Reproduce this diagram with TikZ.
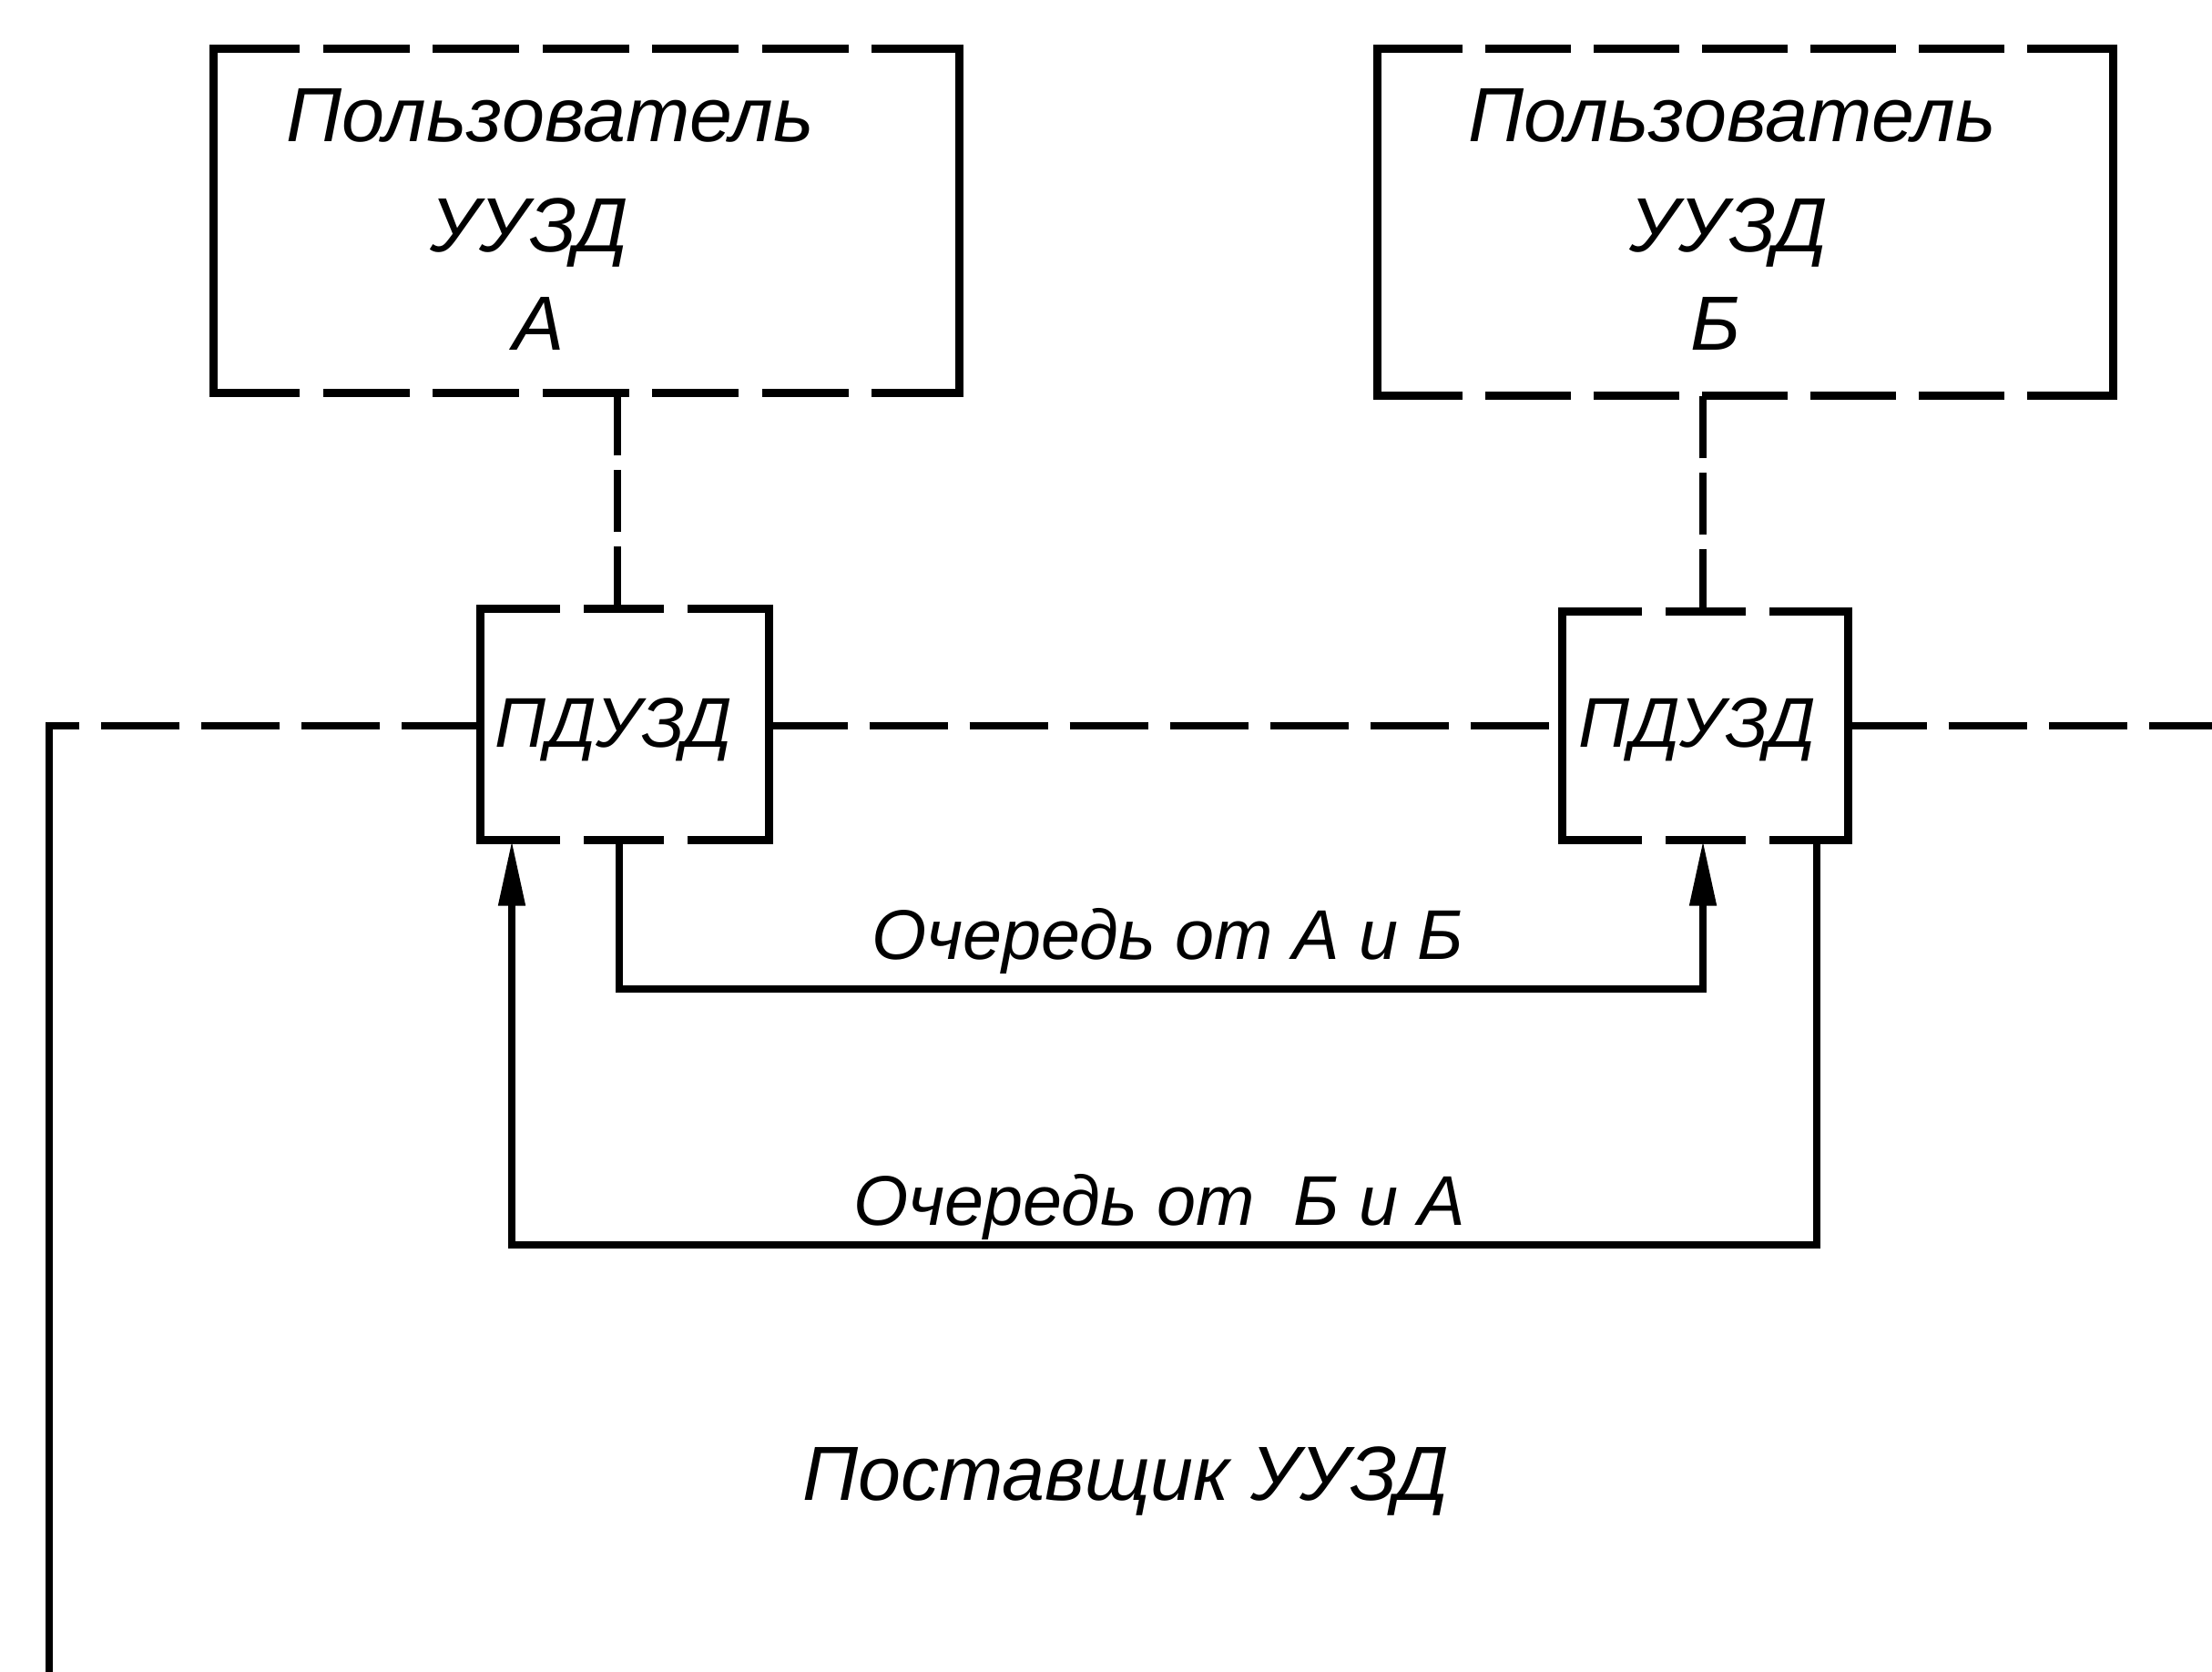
\documentclass[tikz,border=0pt]{standalone}
\usepackage{fontspec}
\setmainfont{Liberation Sans}
\usetikzlibrary{arrows.meta}
\tikzset{
  txt/.style={font=\fontsize{24}{28}\selectfont\itshape, inner sep=0pt},
  ptxt/.style={font=\fontsize{22}{26}\selectfont\itshape, inner sep=0pt},
  qtxt/.style={font=\fontsize{22}{26}\selectfont\itshape, inner sep=0pt},
  boxnode/.style={draw=none, inner sep=0pt},
  solidside/.style={line width=2.5pt, line cap=rect},
  dashA/.style={line width=2.5pt, dash pattern=on 0.95cm off 0.255cm},
  dashB/.style={line width=2.5pt, dash pattern=on 0.935cm off 0.255cm},
  smalldash/.style={line width=2.5pt, dash pattern=on 0.88cm off 0.26cm},
  vdash/.style={line width=2.4pt, dash pattern=on 0.68cm off 0.16cm},
  hdash/.style={line width=2.4pt, dash pattern=on 0.86cm off 0.24cm},
  conn/.style={line width=2.3pt},
  tip/.style={-{Triangle[length=0.72cm,width=0.28cm]}}
}
\begin{document}
\begin{tikzpicture}
\useasboundingbox (0,0) rectangle (24.29,-18.35);
% user boxes
\node[boxnode, minimum width=8.18cm, minimum height=3.77cm] (ua) at (6.44,-2.425) {};
\node[boxnode, minimum width=8.07cm, minimum height=3.80cm] (ub) at (19.165,-2.44) {};
% interface boxes
\node[boxnode, minimum width=3.16cm, minimum height=2.53cm] (pa) at (6.86,-7.955) {};
\node[boxnode, minimum width=3.13cm, minimum height=2.50cm] (pb) at (18.725,-7.97) {};
% texts
\node[txt, anchor=base] (ua1) at (6.04,-1.55) {Пользователь};
\node[txt, anchor=base] (ua2) at (5.81,-2.76) {УУЗД};
\node[txt, anchor=base] (ua3) at (5.92,-3.84) {А};
\node[txt, anchor=base] (ub1) at (19.02,-1.55) {Пользователь};
\node[txt, anchor=base] (ub2) at (18.98,-2.76) {УУЗД};
\node[txt, anchor=base] (ub3) at (18.84,-3.84) {Б};
\node[ptxt, anchor=base] (pat) at (6.74,-8.2) {ПДУЗД};
\node[ptxt, anchor=base] (pbt) at (18.64,-8.2) {ПДУЗД};
\node[qtxt, anchor=base] (la) at (12.82,-10.53) {Очередь от А и Б};
\node[qtxt, anchor=base] (lb) at (12.73,-13.45) {Очередь от\ \ Б и А};
\node[txt, anchor=base] (lp) at (12.36,-16.47) {Поставщик УУЗД};
% box outlines
\draw[solidside] (ua.north west) -- (ua.south west);
\draw[solidside] (ua.north east) -- (ua.south east);
\draw[dashA] (ua.north west) -- (ua.north east);
\draw[dashA] (ua.south west) -- (ua.south east);
\draw[solidside] (ub.north west) -- (ub.south west);
\draw[solidside] (ub.north east) -- (ub.south east);
\draw[dashB] (ub.north west) -- (ub.north east);
\draw[dashB] (ub.south west) -- (ub.south east);
\foreach \b in {pa,pb}{
  \draw[solidside] (\b.north west) -- (\b.south west);
  \draw[solidside] (\b.north east) -- (\b.south east);
  \draw[smalldash] (\b.north west) -- (\b.north east);
  \draw[smalldash] (\b.south west) -- (\b.south east);
}
% user to interface
\draw[vdash] ([xshift=-0.08cm]pa.north) -- ([xshift=-0.08cm]pa.north |- ua.south);
\draw[vdash] ([xshift=-0.025cm]pb.north) -- ([xshift=-0.025cm]pb.north |- ub.south);
% provider line
\coordinate (c) at (0.54,-7.97);
\coordinate (e) at (24.29,-7.97);
\coordinate (bot) at (0.54,-18.35);
\draw[conn, line cap=rect] (c) -- (bot);
\draw[hdash] (c -| pa.west) -- (c);
\draw[hdash] (pa.east |- c) -- (pb.west |- c);
\draw[hdash] (pb.east |- c) -- (e);
% queues
\draw[conn, tip] ([xshift=-0.06cm]pa.south) -- ++(0,-1.63) -| ([xshift=-0.025cm]pb.south);
\draw[conn, tip] ([xshift=1.225cm]pb.south) -- ++(0,-4.44) -| ([xshift=-1.24cm]pa.south);
\end{tikzpicture}
\end{document}
